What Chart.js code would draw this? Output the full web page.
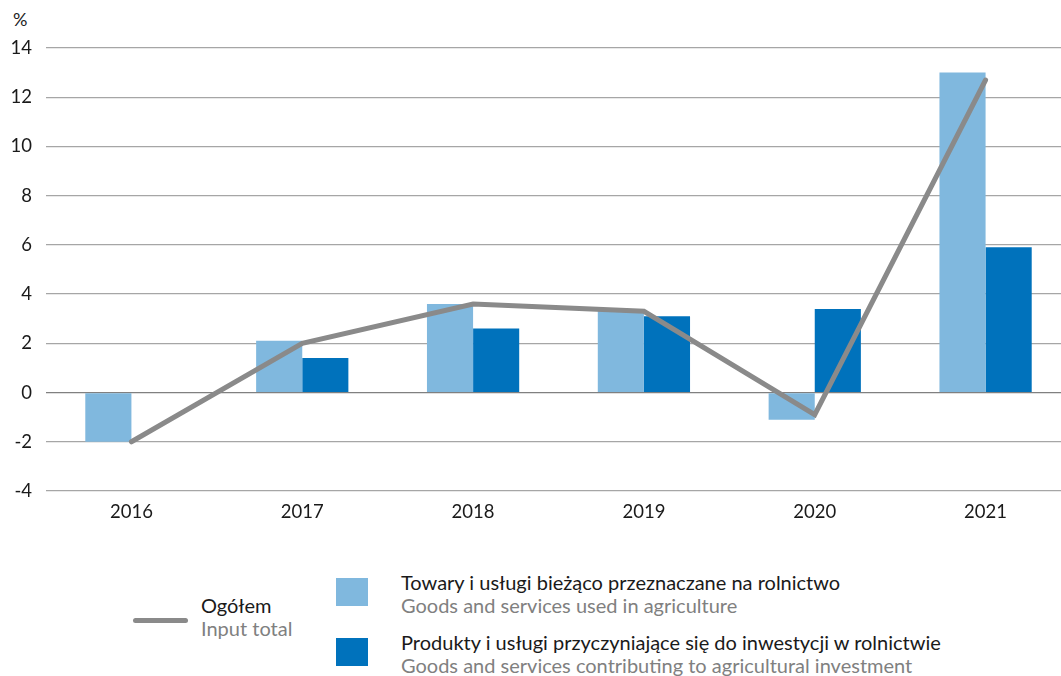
<!DOCTYPE html>
<html>
<head>
<meta charset="utf-8">
<script src="https://cdn.jsdelivr.net/npm/chart.js@4"></script>
<style>
  html, body { margin: 0; padding: 0; background: #fff; overflow: hidden; }
  body { width: 1061px; height: 676px; position: relative; font-family: "Lato", "Noto Sans", sans-serif; }
  #wrap { position: absolute; left: 0; top: 0; width: 1071px; height: 540px; }
  .unit { position: absolute; left: 13px; top: 8px; font-size: 18px; color: #222; }
  .lg { position: absolute; font-size: 20px; line-height: 23px; white-space: nowrap; }
  .lg .pl { color: #1a1a1a; }
  .lg .en { color: #808080; }
  .sw { position: absolute; width: 32px; height: 28px; }
  .ln { position: absolute; height: 5px; border-radius: 3px; background: #8a8a8a; }
</style>
</head>
<body>
<div class="unit">%</div>
<div id="wrap"><canvas id="chart" width="1071" height="540"></canvas></div>

<div class="ln" style="left:133px; top:618px; width:55px;"></div>
<div class="lg" style="left:201px; top:594px;"><div class="pl">Ogółem</div><div class="en">Input total</div></div>

<div class="sw" style="left:336px; top:578px; background:#80b8de;"></div>
<div class="lg" style="left:401px; top:571px;"><div class="pl">Towary i usługi bieżąco przeznaczane na rolnictwo</div><div class="en">Goods and services used in agriculture</div></div>

<div class="sw" style="left:336px; top:638px; background:#0072bc;"></div>
<div class="lg" style="left:401px; top:631px;"><div class="pl">Produkty i usługi przyczyniające się do inwestycji w rolnictwie</div><div class="en">Goods and services contributing to agricultural investment</div></div>

<script>
const years = ["2016", "2017", "2018", "2019", "2020", "2021"];
const currentGoods = [-2.0, 2.1, 3.6, 3.4, -1.1, 13.0];
const investmentGoods = [null, 1.4, 2.6, 3.1, 3.4, 5.9];
const inputTotal = [-2.0, 2.0, 3.6, 3.3, -0.9, 12.7];
const yTicks = [-4, -2, 0, 2, 4, 6, 8, 10, 12, 14];

const tickFont = { family: "Lato, 'Noto Sans', sans-serif", size: 18.5 };

const ctx = document.getElementById("chart").getContext("2d");
const chart = new Chart(ctx, {
  type: "bar",
  data: {
    labels: years,
    datasets: [
      {
        type: "line",
        label: "Ogółem",
        data: inputTotal,
        borderColor: "#8a8a8a",
        borderWidth: 5,
        pointRadius: 0,
        tension: 0,
        borderCapStyle: "round",
        borderJoinStyle: "miter",
        order: 0,
      },
      {
        label: "Towary i usługi bieżąco przeznaczane na rolnictwo",
        data: currentGoods,
        backgroundColor: "#80b8de",
        categoryPercentage: 0.54,
        barPercentage: 1,
        order: 1,
      },
      {
        label: "Produkty i usługi przyczyniające się do inwestycji w rolnictwie",
        data: investmentGoods,
        backgroundColor: "#0072bc",
        categoryPercentage: 0.54,
        barPercentage: 1,
        order: 1,
      },
    ],
  },
  options: {
    responsive: false,
    animation: false,
    devicePixelRatio: 1,
    layout: { padding: { top: 48, right: 0, bottom: 0, left: 0 } },
    plugins: { legend: { display: false }, tooltip: { enabled: false } },
    scales: {
      x: {
        grid: { display: false, drawTicks: false },
        border: { display: false },
        ticks: { color: "#1a1a1a", font: tickFont, padding: 10 },
        afterFit: (scale) => { scale.height = 49; },
      },
      y: {
        min: -4,
        max: 14,
        afterBuildTicks: (scale) => { scale.ticks = yTicks.map((v) => ({ value: v })); },
        grid: {
          color: (c) => (c.tick && c.tick.value === 0 ? "#808080" : "#a6a6a6"),
          lineWidth: 1.3,
          drawTicks: false,
        },
        border: { display: false },
        ticks: { color: "#1a1a1a", font: tickFont, padding: 14 },
        afterFit: (scale) => { scale.width = 46; },
      },
    },
  },
});
</script>
</body>
</html>
